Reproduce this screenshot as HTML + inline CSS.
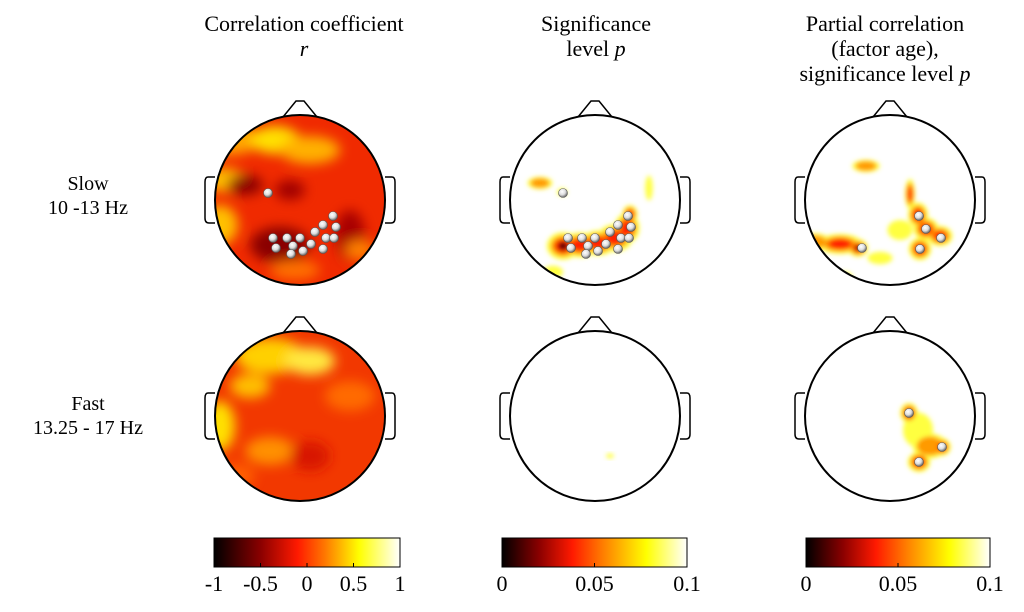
<!DOCTYPE html>
<html><head><meta charset="utf-8"><style>
body{margin:0;background:#fff;}
svg{display:block;font-family:"Liberation Serif",serif;}
</style></head><body>
<svg id="fig" width="1024" height="612" viewBox="0 0 1024 612">
<defs>
<filter id="b6" x="-50%" y="-50%" width="200%" height="200%"><feGaussianBlur stdDeviation="6"/></filter>
<filter id="b3" x="-50%" y="-50%" width="200%" height="200%"><feGaussianBlur stdDeviation="2.5"/></filter>
<linearGradient id="hotR" x1="0" x2="1"><stop offset="0" stop-color="#000"/><stop offset="0.25" stop-color="#8a0000"/><stop offset="0.45" stop-color="#ff1a00"/><stop offset="0.6" stop-color="#ff7a00"/><stop offset="0.78" stop-color="#ffff00"/><stop offset="1" stop-color="#fff"/></linearGradient>
<linearGradient id="hotP" x1="0" x2="1"><stop offset="0" stop-color="#000"/><stop offset="0.2" stop-color="#8a0000"/><stop offset="0.38" stop-color="#ff1a00"/><stop offset="0.55" stop-color="#ff8000"/><stop offset="0.78" stop-color="#ffff00"/><stop offset="1" stop-color="#fff"/></linearGradient>
<radialGradient id="elec" cx="0.4" cy="0.35" r="0.6"><stop offset="0" stop-color="#fff"/><stop offset="0.6" stop-color="#ddd"/><stop offset="1" stop-color="#777"/></radialGradient>
</defs>
<g font-size="22" text-anchor="middle" fill="#000">
<text x="304" y="31">Correlation coefficient</text>
<text x="304" y="56" font-style="italic">r</text>
<text x="596" y="31">Significance</text>
<text x="596" y="56">level <tspan font-style="italic">p</tspan></text>
<text x="885" y="31">Partial correlation</text>
<text x="885" y="56">(factor age),</text>
<text x="885" y="81">significance level <tspan font-style="italic">p</tspan></text>
</g>
<g font-size="20" text-anchor="middle">
<text x="88" y="190">Slow</text><text x="88" y="214">10 -13 Hz</text>
<text x="88" y="410">Fast</text><text x="88" y="434">13.25 - 17 Hz</text>
</g>
<g id="heads"></g>
<g id="cbars"></g>
</svg>
<script>
const NS='http://www.w3.org/2000/svg';
const colX=[300,595,890], rowY=[200,416], R=85;
const bgR=['#f02a00','#f23800'];
const blobsR1=[[-70,-60,30,15,'#ffa500'],[-75,-20,20,12,'#ffc000'],[-25,-60,25,14,'#ffe000'],[10,-50,30,14,'#ffb000'],[-80,25,18,20,'#ffc000'],[-55,-15,18,10,'#8a0000'],[-10,-10,15,10,'#a00000'],[-20,45,30,18,'#8a0000'],[50,35,15,25,'#a80000'],[-5,70,25,10,'#ff7000'],[60,50,15,10,'#ff8000']];
const blobsR2=[[-30,-60,35,18,'#ffd000'],[10,-55,25,14,'#ffe840'],[-50,-30,20,12,'#ffc000'],[-80,10,15,25,'#ffe000'],[-30,35,25,14,'#ff9000'],[50,-20,25,15,'#ff6a00'],[10,40,20,15,'#d81800'],[-65,60,20,12,'#ff6000']];
const blobsP1=[[-55,-17,10,5,2],[-33,-8,4,3,1],[54,-12,3,10,1],[-32,46,13,11,4],[-15,45,14,10,3],[3,43,14,10,3],[20,38,14,11,3],[32,28,10,12,3],[35,14,6,7,3],[-42,72,8,5,1]];
const blobsP2=[[15,40,3,2,1]];
const blobsQ1=[[-24,-34,11,5,2],[-75,42,12,7,2],[-50,44,18,8,3],[-32,48,8,7,4],[-10,58,10,5,1],[20,-6,4,12,3],[28,15,8,10,3],[36,29,10,9,3],[50,36,10,8,3],[30,49,9,9,3],[10,30,10,8,1],[-45,78,6,5,1]];
const blobsQ2=[[19,-3,7,8,4],[28,14,12,14,1],[40,30,14,10,2],[52,31,7,7,3],[29,46,9,8,3]];
const elecR=[[-32,-7],[-27,38],[-24,48],[-13,38],[-7,46],[-9,54],[0,38],[3,51],[11,44],[15,32],[23,49],[26,38],[23,25],[33,16],[36,27],[34,38]];
const elecQ1=[[-28,48],[29,16],[36,29],[51,38],[30,49]];
const elecQ2=[[19,-3],[52,31],[29,46]];
const levColors=['#ffff40','#ff9a00','#ff2000','#300000'];
const levScale=[1.25,0.95,0.65,0.35];
const panels=[[0,0,bgR[0],blobsR1,elecR,0],[1,0,'#fff',blobsP1,elecR,1],[2,0,'#fff',blobsQ1,elecQ1,1],[0,1,bgR[1],blobsR2,[],0],[1,1,'#fff',blobsP2,[],1],[2,1,'#fff',blobsQ2,elecQ2,1]];
const heads=document.getElementById('heads');
function mk(t,a,p){const e=document.createElementNS(NS,t);for(const k in a)e.setAttribute(k,a[k]);(p||heads).appendChild(e);return e;}
panels.forEach((pp,i)=>{
 const [c,r,bg,blobs,els,isP]=pp;const cx=colX[c],cy=rowY[r];
 const g=mk('g',{});
 
 
 const cp=mk('clipPath',{id:'cp'+i},g);mk('circle',{cx,cy,r:R},cp);
 const inner=mk('g',{'clip-path':'url(#cp'+i+')'},g);
 mk('rect',{x:cx-R,y:cy-R,width:2*R,height:2*R,fill:bg},inner);
 const bl=mk('g',{filter:isP?'url(#b3)':'url(#b6)'},inner);
 if(isP){
  for(let L=0;L<4;L++) blobs.forEach(b=>{if(b[4]>L)mk('ellipse',{cx:cx+b[0],cy:cy+b[1],rx:b[2]*levScale[L],ry:b[3]*levScale[L],fill:levColors[L]},bl);});
 } else blobs.forEach(b=>mk('ellipse',{cx:cx+b[0],cy:cy+b[1],rx:b[2],ry:b[3],fill:b[4]},bl));
 mk('path',{d:`M${cx-17} ${cy-R+2} L${cx-4} ${cy-R-14} L${cx+4} ${cy-R-14} L${cx+17} ${cy-R+2}`,fill:'none',stroke:'#000','stroke-width':1.5},g);
 mk('path',{d:`M${cx-R} ${cy-23} L${cx-R-7} ${cy-23} Q${cx-R-10} ${cy-23} ${cx-R-10} ${cy-18} L${cx-R-10} ${cy+18} Q${cx-R-10} ${cy+23} ${cx-R-6} ${cy+23} L${cx-R} ${cy+23}`,fill:'none',stroke:'#000','stroke-width':1.5},g);
 mk('path',{d:`M${cx+R} ${cy-23} L${cx+R+7} ${cy-23} Q${cx+R+10} ${cy-23} ${cx+R+10} ${cy-18} L${cx+R+10} ${cy+18} Q${cx+R+10} ${cy+23} ${cx+R+6} ${cy+23} L${cx+R} ${cy+23}`,fill:'none',stroke:'#000','stroke-width':1.5},g);
 mk('circle',{cx,cy,r:R,fill:'none',stroke:'#000','stroke-width':2},g);
 els.forEach(e=>{const d=mk('circle',{cx:cx+e[0],cy:cy+e[1],r:4.5,fill:'url(#elec)',stroke:'#555','stroke-width':0.6},g);
  
  });
});
const cbTicks=[['-1','-0.5','0','0.5','1'],['0','0.05','0.1'],['0','0.05','0.1']];
const cbX=[[214,400],[502,687],[806,990]];
const cbars=document.getElementById('cbars');
cbX.forEach((x,i)=>{
 const g=mk('g',{},cbars);
 
 
 mk('rect',{x:x[0],y:538,width:x[1]-x[0],height:29,fill:i===0?'url(#hotR)':'url(#hotP)',stroke:'#000','stroke-width':1},g);
 const t=cbTicks[i];
 t.forEach((s,j)=>{const tx=x[0]+(x[1]-x[0])*j/(t.length-1);
  mk('line',{x1:tx,y1:567,x2:tx,y2:563,stroke:'#000'},g);
  const te=mk('text',{x:tx,y:591,'font-size':22,'text-anchor':'middle'},g);te.textContent=s;
  
  });
});
</script>
</body></html>
